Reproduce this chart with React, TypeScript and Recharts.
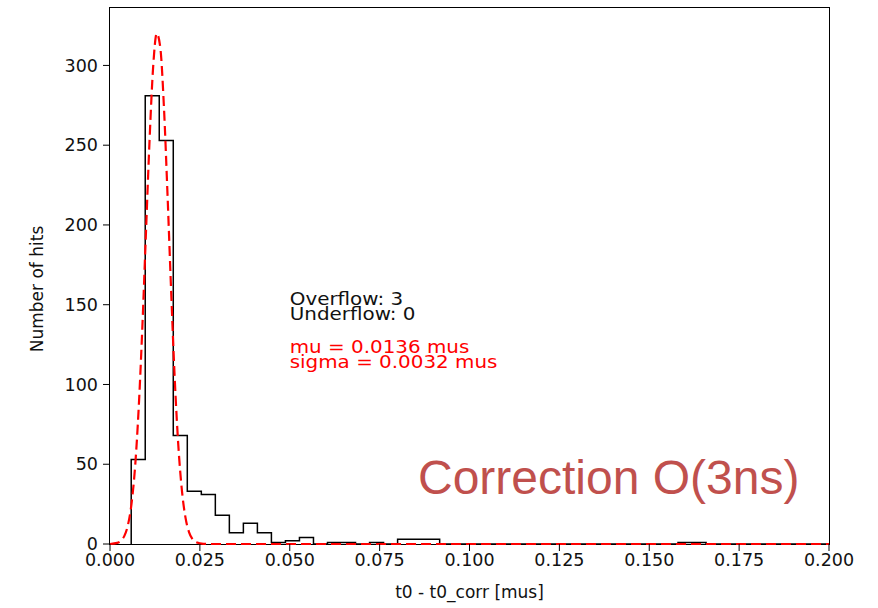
import React from 'react';
import { ComposedChart, Line, XAxis, YAxis, ReferenceDot } from 'recharts';

// histogram: 50 bins of equal width starting at BIN_START
const BIN_START = 0.0059;
const BIN_WIDTH = 0.0039;
const HIST_COUNTS = [
  53, 281, 253, 68, 33, 31, 18, 7, 13, 7,
  1, 2, 4, 0, 1, 1, 0, 1, 0, 3,
  3, 3, 0, 0, 0, 0, 0, 0, 0, 0,
  0, 0, 0, 0, 0, 0, 0, 0, 0, 1,
  1, 0, 0, 0, 0, 0, 0, 0, 0, 0,
];

// gaussian fit curve
const FIT_X = [
  0, 0.002, 0.003, 0.004, 0.005, 0.006, 0.007, 0.008, 0.009, 0.01,
  0.011, 0.012, 0.013, 0.014, 0.015, 0.016, 0.017, 0.018, 0.019, 0.02,
  0.021, 0.022, 0.023, 0.024, 0.026, 0.028, 0.2,
];
const FIT_Y = [
  0, 0.7, 2, 5.1, 12, 25.5, 49, 86, 136, 195,
  253, 299, 320, 311, 274, 219, 159, 104, 62, 33.6,
  16.5, 7.3, 2.9, 1.1, 0.1, 0, 0,
];

const X_MAX = 0.2;
const X_TICKS = [0, 0.025, 0.05, 0.075, 0.1, 0.125, 0.15, 0.175, 0.2];
const Y_TICKS = [0, 50, 100, 150, 200, 250, 300];
const Y_MAX = 336;

const COUNT_NOTE = ['Overflow: 3', 'Underflow: 0'];
const FIT_NOTE = ['mu = 0.0136 mus', 'sigma = 0.0032 mus'];
const SLIDE_NOTE = 'Correction O(3ns)';

const FONT = 'DejaVu Sans';
const W = 878;
const H = 608;
const MARGIN = { top: 8, right: 49, bottom: 0, left: 0 };
const Y_AXIS_W = 110;
const X_AXIS_H = 64;

const histData = [
  { x: BIN_START, y: 0 },
  ...HIST_COUNTS.map((c, i) => ({ x: BIN_START + i * BIN_WIDTH, y: c })),
  { x: Math.min(BIN_START + HIST_COUNTS.length * BIN_WIDTH, X_MAX), y: 0 },
].filter((p) => p.x <= X_MAX);

const fitData = FIT_X.map((x, i) => ({ x, y: FIT_Y[i] }));

function NoteText(props: any) {
  const { viewBox, lines, color } = props;
  const x = viewBox.x + viewBox.width / 2;
  const y = viewBox.y + viewBox.height / 2;
  return (
    <text
      x={x}
      y={y}
      fill={color}
      fontSize={17}
      fontFamily={FONT}
      transform={`translate(${x},0) scale(1.17,1) translate(${-x},0)`}
    >
      {lines.map((l: string, i: number) => (
        <tspan key={i} x={x} dy={i === 0 ? 0 : 15}>
          {l}
        </tspan>
      ))}
    </text>
  );
}

function YLabel(props: any) {
  const { viewBox } = props;
  const cx = viewBox.x + 37;
  const cy = viewBox.y + viewBox.height / 2 + 13;
  return (
    <text
      x={cx}
      y={cy}
      dy="0.35em"
      textAnchor="middle"
      fill="#111"
      fontSize={17}
      fontFamily={FONT}
      transform={`rotate(-90, ${cx}, ${cy})`}
    >
      Number of hits
    </text>
  );
}

export default function App() {
  return (
    <div style={{ position: 'absolute', left: 0, top: 0, width: W, height: H, background: '#fff', fontFamily: FONT }}>
      {/* axes frame sits under the svg so the dashed fit stays on top of it */}
      <div
        style={{
          position: 'absolute',
          left: MARGIN.left + Y_AXIS_W - 0.6,
          top: MARGIN.top - 0.6,
          width: W - MARGIN.left - MARGIN.right - Y_AXIS_W,
          height: H - MARGIN.top - MARGIN.bottom - X_AXIS_H,
          border: '1.2px solid #000',
          boxSizing: 'content-box',
        }}
      />
      <div style={{ position: 'absolute', left: 0, top: 0 }}>
        <ComposedChart width={W} height={H} margin={MARGIN}>
          <XAxis
            type="number"
            dataKey="x"
            domain={[0, X_MAX]}
            ticks={X_TICKS}
            tickFormatter={(v: number) => v.toFixed(3)}
            height={X_AXIS_H}
            tickSize={7}
            tickMargin={3}
            axisLine={false}
            tickLine={{ stroke: '#000' }}
            tick={{ fill: '#111', fontSize: 17.5, fontFamily: FONT }}
            label={{ value: 't0 - t0_corr [mus]', position: 'insideBottom', offset: 10, fill: '#111', fontSize: 17, fontFamily: FONT }}
          />
          <YAxis
            type="number"
            domain={[0, Y_MAX]}
            ticks={Y_TICKS}
            width={Y_AXIS_W}
            tickSize={7}
            tickMargin={5}
            axisLine={false}
            tickLine={{ stroke: '#000' }}
            tick={{ fill: '#111', fontSize: 17.5, fontFamily: FONT }}
            label={{ content: (p: any) => <YLabel {...p} /> }}
          />
          <Line
            data={histData}
            dataKey="y"
            type="stepAfter"
            stroke="#000"
            strokeWidth={1.5}
            dot={false}
            isAnimationActive={false}
          />
          <Line
            data={fitData}
            dataKey="y"
            type="monotone"
            stroke="#ff0000"
            strokeWidth={2.2}
            strokeDasharray="10 5"
            dot={false}
            isAnimationActive={false}
          />
          <ReferenceDot
            x={0.05}
            y={150}
            r={0}
            fill="none"
            stroke="none"
            label={{ content: (p: any) => <NoteText {...p} lines={COUNT_NOTE} color="#111" /> }}
          />
          <ReferenceDot
            x={0.05}
            y={120}
            r={0}
            fill="none"
            stroke="none"
            label={{ content: (p: any) => <NoteText {...p} lines={FIT_NOTE} color="#ff0000" /> }}
          />
        </ComposedChart>
      </div>
      <div
        style={{
          position: 'absolute',
          left: 418,
          top: 454,
          fontFamily: 'Liberation Sans',
          fontSize: 48,
          lineHeight: 1,
          color: '#c0504d',
          whiteSpace: 'nowrap',
        }}
      >
        {SLIDE_NOTE}
      </div>
    </div>
  );
}
